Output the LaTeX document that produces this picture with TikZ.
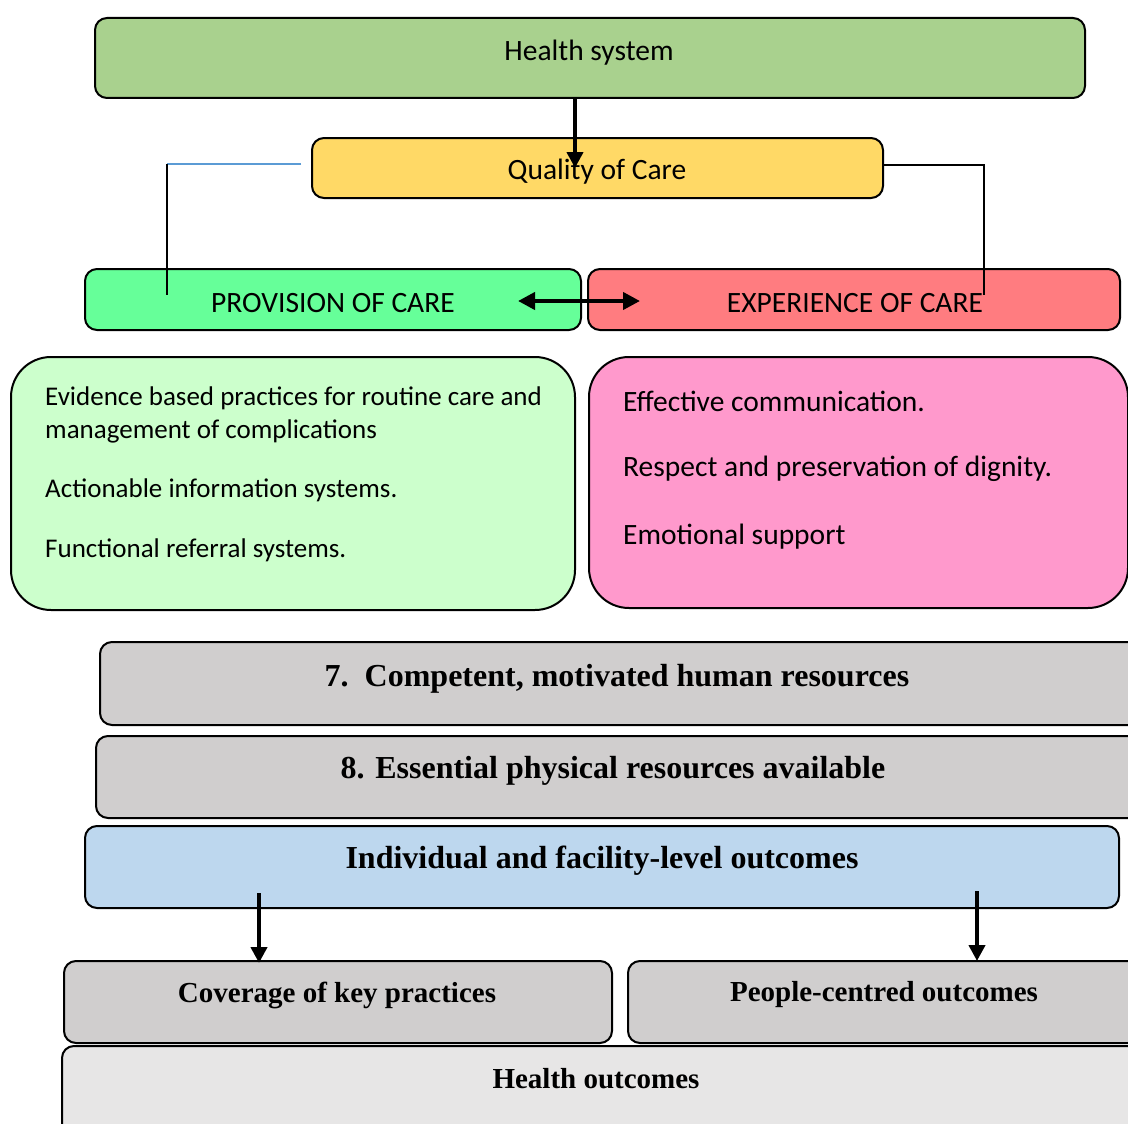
\documentclass[tikz,border=0pt]{standalone}
\usepackage{fontspec}
\setmainfont{Liberation Serif}
\setsansfont{Carlito}
\usetikzlibrary{arrows.meta}
\definecolor{hsgreen}{HTML}{A9D18E}
\definecolor{qyellow}{HTML}{FFD966}
\definecolor{provgreen}{HTML}{66FF99}
\definecolor{expred}{HTML}{FF7C80}
\definecolor{lightgreen}{HTML}{CCFFCC}
\definecolor{pink}{HTML}{FF99CC}
\definecolor{boxgray}{HTML}{D0CECE}
\definecolor{boxblue}{HTML}{BDD7EE}
\definecolor{outgray}{HTML}{E7E6E6}
\definecolor{linkblue}{HTML}{5B9BD5}
\tikzset{
  box/.style={draw=black, line width=2pt, rounded corners=12pt, inner sep=0pt},
  bigbox/.style={draw=black, line width=2pt, rounded corners=40pt, inner sep=0pt},
  sanstext/.style={font=\sffamily\fontsize{29.5}{34}\selectfont, inner sep=0pt},
  leftlines/.style={font=\sffamily\fontsize{27}{32}\selectfont, inner sep=0pt, anchor=west},
  rightlines/.style={font=\sffamily\fontsize{29.5}{34}\selectfont, inner sep=0pt, anchor=west},
  serifbold/.style={font=\bfseries\fontsize{29}{34}\selectfont, inner sep=0pt},
  serifbig/.style={font=\bfseries\fontsize{32}{37}\selectfont, inner sep=0pt},
  thickarrow/.style={line width=4pt, -{Triangle[length=16pt,width=16pt]}},
  dblarrow/.style={line width=4pt, {Triangle[length=17pt,width=17pt]}-{Triangle[length=17pt,width=17pt]}},
  link/.style={line width=2pt, black},
}
\begin{document}
\begin{tikzpicture}[x=1pt,y=-1pt]
\useasboundingbox (0,0) rectangle (1128,1124);
\begin{scope}
\clip (0,0) rectangle (1128,1124);
% Boxes
\draw[box, fill=hsgreen] (95,18) rectangle (1085,98);
\node[sanstext] (hs) at (589,53) {Health system};
\node[inner sep=0pt] (hsb) at (575,98) {};

\draw[box, fill=qyellow] (312,138) rectangle (883,198);
\node[sanstext] (qc) at (597,172) {Quality of Care};
\coordinate (qcR) at (883,165);
\coordinate (qcTip) at (575,168);

\draw[box, fill=provgreen] (85,269) rectangle (581,330);
\node[sanstext] (prov) at (333,303) {PROVISION OF CARE};

\draw[box, fill=expred] (588,269) rectangle (1120,330);
\node[sanstext] (exp) at (855,303) {EXPERIENCE OF CARE};

% connectors top
\coordinate (blA) at (301,164);
\coordinate (blB) at (167,164);
\coordinate (blC) at (167,295);
\draw[linkblue, line width=2pt] (blA) -- (blB);
\draw[link, line width=2.6pt] (blB) -- (blC);
\coordinate (rcA) at (984,165);
\coordinate (rcB) at (984,295);
\draw[link] (qcR) -- (rcA) -- (rcB);
\draw[thickarrow] (hsb.center) -- (qcTip);
\coordinate (daL) at (518,301);
\coordinate (daR) at (640,301);
\draw[dblarrow] (daL) -- (daR);

% detail boxes
\draw[bigbox, fill=lightgreen] (11,357) rectangle (575,610);
\node[leftlines] (l1) at (45,398) {Evidence based practices for routine care and};
\node[leftlines] (l2) at (45,431) {management of complications};
\node[leftlines] (l3) at (45,490) {Actionable information systems.};
\node[leftlines] (l4) at (45,550) {Functional referral systems.};

\draw[bigbox, fill=pink] (589,357) rectangle (1128,608);
\node[rightlines] (r1) at (623,401) {Effective communication.};
\node[rightlines] (r2) at (623,469) {Respect and preservation of dignity.};
\node[rightlines] (r3) at (623,537) {Emotional support};

% gray bars
\draw[box, fill=boxgray] (100,642) rectangle (1140,725);
\node[serifbig] (b7) at (617,679) {7.\ \ Competent, motivated human resources};

\draw[box, fill=boxgray] (96,736) rectangle (1140,818);
\node[serifbig] (b8) at (613,771) {8. Essential physical resources available};

\draw[box, fill=boxblue] (85,826) rectangle (1119,908);
\node[serifbig] (ind) at (602,861) {Individual and facility-level outcomes};

\draw[box, fill=boxgray] (64,961) rectangle (612,1043);
\node[serifbold] (cov) at (337,995) {Coverage of key practices};

\draw[box, fill=boxgray] (628,961) rectangle (1140,1043);
\node[serifbold] (pco) at (884,995) {People-centred outcomes};

\draw[box, fill=outgray] (62,1046) rectangle (1140,1140);
\node[serifbold] (ho) at (596,1079) {Health outcomes};

\coordinate (a1s) at (259,893);
\coordinate (a1e) at (259,963);
\coordinate (a2s) at (977,891);
\coordinate (a2e) at (977,961);
\draw[thickarrow] (a1s) -- (a1e);
\draw[thickarrow] (a2s) -- (a2e);
\end{scope}
\end{tikzpicture}
\end{document}
